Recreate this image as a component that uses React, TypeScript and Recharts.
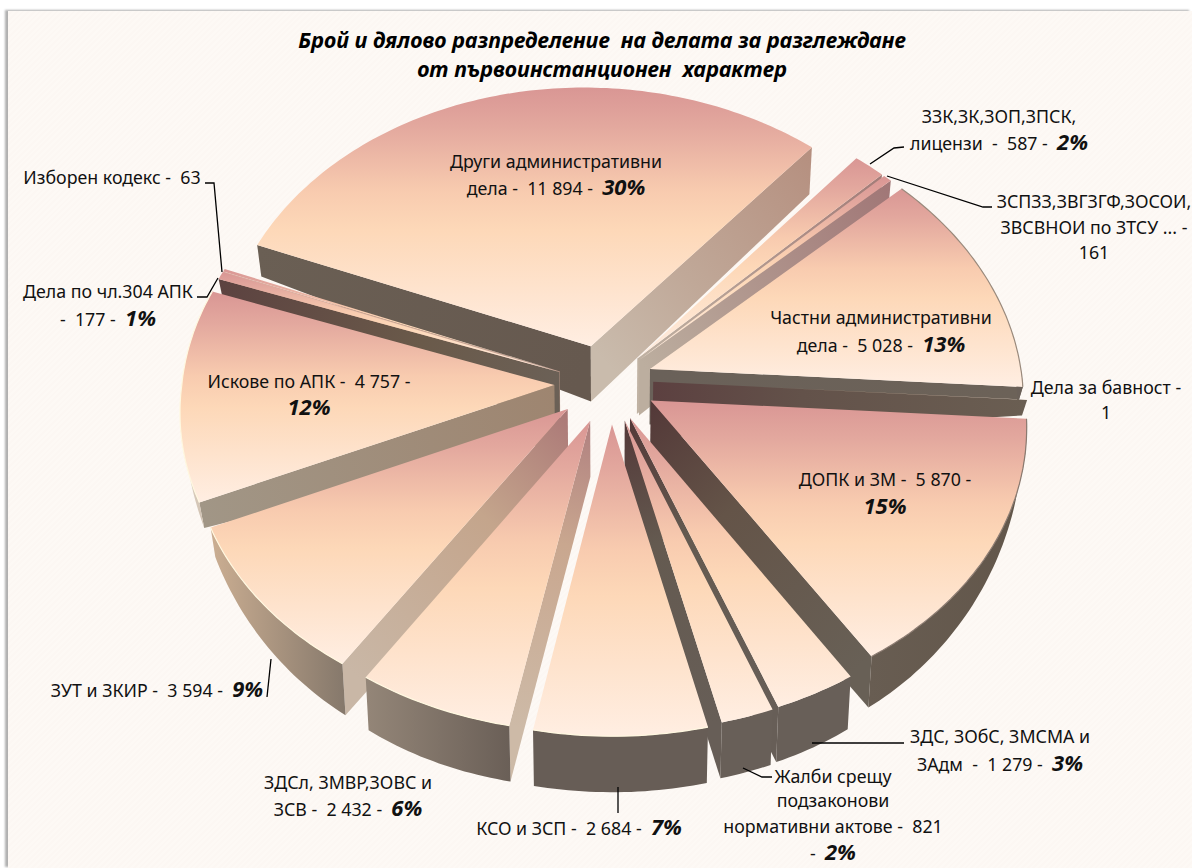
import React from 'react';
import { PieChart, Pie } from 'recharts';

const clockwiseNames = ['Други административни дела', 'ЗЗК,ЗК,ЗОП,ЗПСК, лицензи', 'ЗСПЗЗ,ЗВГЗГФ,ЗОСОИ, ЗВСВНОИ по ЗТСУ ...', 'Частни административни дела', 'Дела за бавност', 'ДОПК и ЗМ', 'ЗДС, ЗОбС, ЗМСМА и ЗАдм', 'Жалби срещу подзаконови нормативни актове'];
const clockwiseValues = [11894, 587, 161, 5028, 1, 5870, 1279, 821];
const counterNames = ['Изборен кодекс', 'Дела по чл.304 АПК', 'Искове по АПК', 'ЗУТ и ЗКИР', 'ЗДСл, ЗМВР,ЗОВС и ЗСВ', 'КСО и ЗСП'];
const counterValues = [63, 177, 4757, 3594, 2432, 2684];

const titleLines = ['Брой и дялово разпределение  на делата за разглеждане', 'от първоинстанционен  характер'];

const FONT = '"Noto Sans", sans-serif';
const total = [...clockwiseValues, ...counterValues].reduce((a, b) => a + b, 0);
const sum = (a: number[]) => a.reduce((x, y) => x + y, 0);
const START = 158;
const CX = 605, CY = 385, R = 372.6;
const FY = 283, PY = 0.073, PX = 0.085, SHEAR = -8, EXPLODE = 0.13;

const project = (X: number, Y: number): [number, number] => {
  return [CX + (R * X) / (1 + PX * Y) + SHEAR * Math.max(Y, 0), CY - (FY * Y) / (1 + PY * Y)];
};
const drop = (X: number, Y: number): [number, number] => {
  const [x, y] = project(X, Y);
  const h = 56 - 25 * Math.pow(X, 4) - 6 * Math.max(Y, 0);
  return [x - (x - CX) * 0.012, y + h];
};
const rad = (d: number) => (d * Math.PI) / 180;
const poly = (pts: [number, number][]) => 'M' + pts.map(p => p[0].toFixed(1) + ',' + p[1].toFixed(1)).join('L') + 'Z';

type Style = { lo?: string[]; hi?: string[]; wall?: string[]; rim?: string; nudge?: number[] };
const styles: Record<string, Style> = {
  'Други административни дела': { hi: ['#66594f', '#6a5f54'], lo: ['#c9bbac', '#c0a898', '#b58f7f'], nudge: [-0.005, 0.012] },
  'ЗЗК,ЗК,ЗОП,ЗПСК, лицензи': { lo: ['#c0b2a3', '#a37c78'] },
  'ЗСПЗЗ,ЗВГЗГФ,ЗОСОИ, ЗВСВНОИ по ЗТСУ ...': { lo: ['#bcae9f', '#a07676'] },
  'Частни административни дела': { lo: ['#6a6159', '#6c6258'], wall: ['#6a6058', '#6a6058'], rim: '#9a8a7c', nudge: [0, 0.014] },
  'Дела за бавност': { lo: ['#5c4040', '#63524a', '#6a5e52'], nudge: [0, 0.02] },
  'ДОПК и ЗМ': { lo: ['#533838', '#645448', '#686056'], wall: ['#685d52', '#62564a'], rim: '#8a7a70', nudge: [0.01, 0.012] },
  'ЗДС, ЗОбС, ЗМСМА и ЗАдм': { lo: ['#533838', '#645a50', '#675e57'], wall: ['#685f58', '#685f58'], nudge: [0.008, 0] },
  'Жалби срещу подзаконови нормативни актове': { lo: ['#533838', '#645a50', '#675e57'], wall: ['#685f58', '#685f58'], nudge: [0.014, 0] },
  'Изборен кодекс': { hi: ['#c8a090', '#d8b0a0'] },
  'Дела по чл.304 АПК': { hi: ['#6b6056', '#6a5a4a', '#5c4240'] },
  'Искове по АПК': { hi: ['#9e8570', '#a19686'], wall: ['#e2d6c8', '#d0c1b1'], rim: '#fff8e0', nudge: [-0.006, 0.004] },
  'ЗУТ и ЗКИР': { hi: ['#ab7877', '#c4a58c', '#c9b7a6'], wall: ['#cbae92', '#85786b'], rim: '#fff8e0' },
  'ЗДСл, ЗМВР,ЗОВС и ЗСВ': { hi: ['#b08080', '#c9a78f', '#cdbaa7'], wall: ['#948678', '#6a5f57'], rim: '#fff8e0', nudge: [0.01, -0.005] },
  'КСО и ЗСП': { wall: ['#675d56', '#675d56'], rim: '#fff8e0', nudge: [0.016, -0.008] },
};

const Slice = (props: any) => {
  const { startAngle, endAngle, name, payload } = props;
  const label = name ?? payload?.name;
  const hi = Math.max(startAngle, endAngle);
  const lo = Math.min(startAngle, endAngle);
  const mid = (hi + lo) / 2;
  const st = styles[label] || {};
  const ox = EXPLODE * Math.cos(rad(mid)) + (st.nudge ? st.nudge[0] : 0);
  const oy = EXPLODE * Math.sin(rad(mid)) + (st.nudge ? st.nudge[1] : 0);
  const plane = (a: number): [number, number] => [ox + Math.cos(rad(a)), oy + Math.sin(rad(a))];
  const n = Math.max(1, Math.ceil(hi - lo));
  const angles: number[] = [];
  for (let i = 0; i <= n; i++) angles.push(hi - ((hi - lo) * i) / n);
  const id = label.replace(/[^а-яА-Яa-zA-Z0-9]/g, '_') + Math.round(hi * 100);
  const apexT = project(ox, oy);
  const apexB = drop(ox, oy);
  const topPts: [number, number][] = [apexT, ...angles.map(a => project(...plane(a)))];
  const visible = (nrm: number) => Math.sin(rad(nrm)) < 0;
  const face = (a: number, stops: string[] | undefined, key: string) => {
    if (!stops) return null;
    const ct = project(...plane(a));
    const cb = drop(...plane(a));
    return (
      <g key={key}>
        <defs>
          <linearGradient id={id + key} gradientUnits="userSpaceOnUse" x1={apexT[0]} y1={apexT[1]} x2={ct[0]} y2={ct[1]}>
            {stops.map((c, i) => (
              <stop key={i} offset={stops.length === 3 ? [0, 0.4, 1][i] : i} stopColor={c} />
            ))}
          </linearGradient>
        </defs>
        <path d={poly([apexT, ct, cb, apexB])} fill={`url(#${id + key})`} />
      </g>
    );
  };
  const wallAngles = angles.filter(a => Math.sin(rad(a)) < 0.02);
  const arcD = 'M' + angles.map(a => project(...plane(a)).map(v => v.toFixed(1)).join(',')).join('L');
  return (
    <g>
      {visible(hi + 90) ? face(hi, st.hi, 'h') : null}
      {visible(lo - 90) ? face(lo, st.lo, 'l') : null}
      {st.wall && wallAngles.length > 1 ? (
        <g>
          <defs>
            <linearGradient id={id + 'w'} x1="0" y1="0" x2="1" y2="0">
              <stop offset="0" stopColor={st.wall[0]} />
              <stop offset="1" stopColor={st.wall[1]} />
            </linearGradient>
          </defs>
          <path
            d={poly([...wallAngles.map(a => project(...plane(a))), ...[...wallAngles].reverse().map(a => drop(...plane(a)))])}
            fill={`url(#${id}w)`}
          />
        </g>
      ) : null}
      <path d={poly(topPts)} fill="url(#topFace)" />
      {st.rim ? <path d={arcD} fill="none" stroke={st.rim} strokeWidth={1.2} /> : null}
    </g>
  );
};

type LabelSpec = { x: number; ys: number[]; lines: (string | [string, string])[]; leader?: number[][] };
const labelsByName: Record<string, LabelSpec> = {
  'Други административни дела': { x: 556, ys: [168, 195], lines: ['Други административни', ['дела -  11 894 -  ', '30%']] },
  'ЗЗК,ЗК,ЗОП,ЗПСК, лицензи': { x: 999, ys: [123, 150], lines: ['ЗЗК,ЗК,ЗОП,ЗПСК,', ['лицензи  -  587 -  ', '2%']], leader: [[904, 147], [894, 148], [870, 164]] },
  'ЗСПЗЗ,ЗВГЗГФ,ЗОСОИ, ЗВСВНОИ по ЗТСУ ...': { x: 1094, ys: [208, 234, 259], lines: ['ЗСПЗЗ,ЗВГЗГФ,ЗОСОИ,', 'ЗВСВНОИ по ЗТСУ ... -', '161'], leader: [[887, 176], [983, 207], [992, 207]] },
  'Частни административни дела': { x: 881, ys: [324, 352], lines: ['Частни административни', ['дела -  5 028 -  ', '13%']] },
  'Дела за бавност': { x: 1106, ys: [394, 419], lines: ['Дела за бавност -', '1'] },
  'ДОПК и ЗМ': { x: 885, ys: [486, 514], lines: ['ДОПК и ЗМ -  5 870 -', ['', '15%']] },
  'ЗДС, ЗОбС, ЗМСМА и ЗАдм': { x: 1000, ys: [743, 771], lines: ['ЗДС, ЗОбС, ЗМСМА и', ['ЗАдм  -  1 279 -  ', '3%']], leader: [[812, 743], [904, 743]] },
  'Жалби срещу подзаконови нормативни актове': { x: 833, ys: [783, 807, 833, 860], lines: ['Жалби срещу', 'подзаконови', 'нормативни актове -  821', ['-  ', '2%']], leader: [[743, 768], [762, 777], [772, 777]] },
  'КСО и ЗСП': { x: 579, ys: [835], lines: [['КСО и ЗСП -  2 684 -  ', '7%']], leader: [[618, 787], [618, 813]] },
  'ЗДСл, ЗМВР,ЗОВС и ЗСВ': { x: 348, ys: [789, 816], lines: ['ЗДСл, ЗМВР,ЗОВС и', ['ЗСВ -  2 432 -  ', '6%']] },
  'ЗУТ и ЗКИР': { x: 157, ys: [697], lines: [['ЗУТ и ЗКИР -  3 594 -  ', '9%']], leader: [[271, 659], [267, 697]] },
  'Искове по АПК': { x: 309, ys: [388, 415], lines: ['Искове по АПК -  4 757 -', ['', '12%']] },
  'Дела по чл.304 АПК': { x: 108, ys: [298, 326], lines: ['Дела по чл.304 АПК', ['-  177 -  ', '1%']], leader: [[197, 297], [207, 297], [218, 278]] },
  'Изборен кодекс': { x: 112, ys: [184], lines: ['Изборен кодекс -  63'], leader: [[205, 183], [214, 183], [222, 272]] },
};

const renderLabel = (props: any) => {
  const spec = labelsByName[props.name ?? props.payload?.name];
  if (!spec) return null;
  return (
    <g>
      {spec.leader ? <polyline points={spec.leader.map(p => p.join(',')).join(' ')} fill="none" stroke="#000" strokeWidth={1.3} /> : null}
      {spec.lines.map((ln, i) => (
        <text key={i} x={spec.x} y={spec.ys[i]} textAnchor="middle" fontFamily={FONT} fontSize={17.8} fill="#111" style={{ whiteSpace: 'pre' }} stroke="none">
          {typeof ln === 'string' ? ln : (
            <>
              <tspan>{ln[0]}</tspan>
              <tspan fontWeight="bold" fontStyle="italic" fontSize={22}>{ln[1]}</tspan>
            </>
          )}
        </text>
      ))}
    </g>
  );
};

const toRows = (names: string[], values: number[]) => names.map((name, i) => ({ name, value: values[i] }));

export default function App() {
  const endA = START - (sum(clockwiseValues) / total) * 360;
  const endB = START + (sum(counterValues) / total) * 360;
  return (
    <div style={{ position: 'absolute', left: 0, top: 0, width: 1192, height: 868, overflow: 'hidden', background: '#fff' }}>
      <div style={{ position: 'absolute', left: 8, top: 11, width: 1184, height: 857, background: 'repeating-linear-gradient(135deg,#fdf9f5 0,#fdf9f5 2px,#fcf7f3 2px,#fcf7f3 4px)', boxShadow: '-3px -1px 2px #b0b0b0' }} />
      <div style={{ position: 'absolute', left: 0, top: 0 }}>
        <PieChart width={1192} height={868} margin={{ top: 0, left: 0, right: 0, bottom: 0 }}>
          <defs>
            <linearGradient id="topFace" x1="0" y1="0" x2="0" y2="1">
              <stop offset="0" stopColor="#d99694" />
              <stop offset="0.15" stopColor="#e3a89e" />
              <stop offset="0.4" stopColor="#f8cbaf" />
              <stop offset="0.55" stopColor="#fdd8b8" />
              <stop offset="1" stopColor="#ffeee2" />
            </linearGradient>
          </defs>
          <Pie
            data={toRows(clockwiseNames, clockwiseValues)}
            dataKey="value"
            nameKey="name"
            cx={CX}
            cy={CY}
            outerRadius={R}
            startAngle={START}
            endAngle={endA}
            stroke="none"
            isAnimationActive={false}
            shape={Slice}
            activeShape={Slice}
            inactiveShape={Slice}
            label={renderLabel}
            labelLine={false}
          />
          <Pie
            data={toRows(counterNames, counterValues)}
            dataKey="value"
            nameKey="name"
            cx={CX}
            cy={CY}
            outerRadius={R}
            startAngle={START}
            endAngle={endB}
            stroke="none"
            isAnimationActive={false}
            shape={Slice}
            activeShape={Slice}
            inactiveShape={Slice}
            label={renderLabel}
            labelLine={false}
          />
          {titleLines.map((t, i) => (
            <text key={i} x={602} y={48 + i * 29} textAnchor="middle" fontFamily={FONT} fontWeight="bold" fontStyle="italic" fontSize={21.5} fill="#000" style={{ whiteSpace: 'pre' }}>
              {t}
            </text>
          ))}
        </PieChart>
      </div>
    </div>
  );
}
